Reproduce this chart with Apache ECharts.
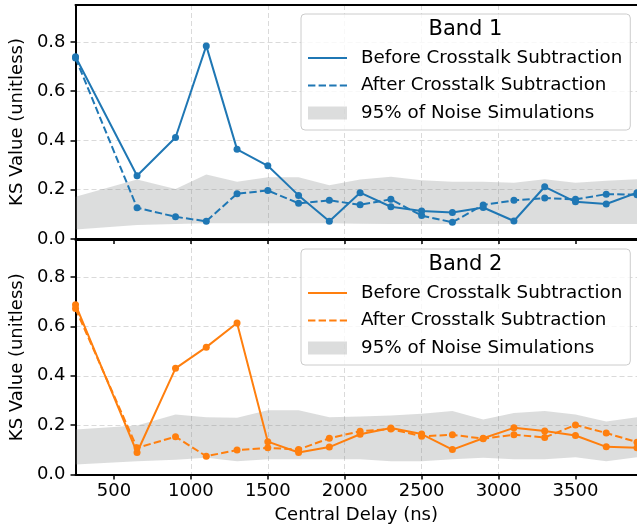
<!DOCTYPE html>
<html>
<head>
<meta charset="utf-8">
<script src="https://cdn.jsdelivr.net/npm/echarts@6/dist/echarts.min.js"></script>
<style>
  html, body { margin: 0; padding: 0; background: #fff; }
  #chart { width: 637px; height: 531px; }
</style>
</head>
<body>
<div id="chart"></div>
<script>
// central delay of each point (ns)
const delays = [250, 650, 900, 1100, 1300, 1500, 1700, 1900, 2100, 2300, 2500, 2700, 2900, 3100, 3300, 3500, 3700, 3900]
const xTickValues = [500, 1000, 1500, 2000, 2500, 3000, 3500]

// Band 1
const band1Before = [0.740, 0.257, 0.412, 0.784, 0.364, 0.297, 0.177, 0.072, 0.188, 0.131, 0.114, 0.108, 0.128, 0.073, 0.212, 0.151, 0.142, 0.188]
const band1After = [0.735, 0.127, 0.090, 0.072, 0.184, 0.197, 0.145, 0.157, 0.139, 0.161, 0.095, 0.068, 0.138, 0.157, 0.166, 0.161, 0.182, 0.180]
const band1NoiseLow = [0.039, 0.057, 0.061, 0.064, 0.064, 0.064, 0.064, 0.064, 0.062, 0.061, 0.061, 0.061, 0.061, 0.061, 0.061, 0.061, 0.061, 0.061]
const band1NoiseHigh = [0.172, 0.242, 0.203, 0.262, 0.232, 0.251, 0.251, 0.218, 0.242, 0.253, 0.239, 0.232, 0.232, 0.228, 0.243, 0.228, 0.236, 0.243]

// Band 2
const band2Before = [0.688, 0.089, 0.430, 0.516, 0.614, 0.133, 0.089, 0.111, 0.163, 0.188, 0.164, 0.101, 0.147, 0.189, 0.176, 0.158, 0.112, 0.108]
const band2After = [0.672, 0.108, 0.153, 0.074, 0.099, 0.108, 0.101, 0.147, 0.175, 0.184, 0.155, 0.161, 0.145, 0.161, 0.150, 0.201, 0.168, 0.131]
const band2NoiseLow = [0.041, 0.054, 0.060, 0.068, 0.054, 0.062, 0.062, 0.062, 0.062, 0.054, 0.054, 0.062, 0.068, 0.062, 0.062, 0.070, 0.054, 0.070]
const band2NoiseHigh = [0.182, 0.199, 0.243, 0.232, 0.230, 0.260, 0.260, 0.232, 0.235, 0.239, 0.246, 0.257, 0.223, 0.249, 0.257, 0.243, 0.215, 0.232]

const FONT = 'DejaVu Sans'
const bandColor = 'rgba(128,132,132,0.28)'
const gridLineColor = '#dadada'
const legendLabels = {}

function pairs (ys) {
    return ys.map((y, i) => [delays[i], y])
}

// shaded noise envelope, drawn once as one polygon through the axis scales
function bandSeries (idx, low, high) {
    return {
        name: 'noise' + idx, type: 'custom', xAxisIndex: idx, yAxisIndex: idx,
        silent: true, z: 1, clip: true,
        itemStyle: { color: bandColor },
        data: delays.map((d, i) => [d, low[i], high[i]]),
        renderItem: function (params, api) {
            if (params.dataIndex !== 0) return null
            const pts = []
            for (let i = 0; i < delays.length; i++) pts.push(api.coord([delays[i], high[i]]))
            for (let i = delays.length - 1; i >= 0; i--) pts.push(api.coord([delays[i], low[i]]))
            return {
                type: 'polygon',
                shape: { points: pts },
                style: { fill: bandColor, stroke: null }
            }
        }
    }
}

function panelSeries (idx, color, before, after, low, high) {
    legendLabels['before' + idx] = 'Before Crosstalk Subtraction'
    legendLabels['after' + idx] = 'After Crosstalk Subtraction'
    legendLabels['noise' + idx] = '95% of Noise Simulations'
    return [
        bandSeries(idx, low, high),
        {
            name: 'before' + idx, type: 'line', xAxisIndex: idx, yAxisIndex: idx,
            data: pairs(before), symbol: 'circle', symbolSize: 7, z: 3,
            lineStyle: { color: color, width: 2 },
            itemStyle: { color: color }
        },
        {
            name: 'after' + idx, type: 'line', xAxisIndex: idx, yAxisIndex: idx,
            data: pairs(after), symbol: 'circle', symbolSize: 7, z: 3,
            lineStyle: { color: color, width: 2, type: [7.4, 3.2] },
            itemStyle: { color: color }
        }
    ]
}

function xAxis (idx, showLabels) {
    return {
        type: 'value', gridIndex: idx, min: 250, max: 3900,
        axisLine: { show: true, lineStyle: { color: '#000', width: 2 } },
        axisTick: { show: true, inside: false, length: 5, customValues: xTickValues, lineStyle: { color: '#000', width: 1.5 } },
        axisLabel: {
            show: showLabels, customValues: xTickValues, margin: 8, fontSize: 18, fontFamily: FONT, color: '#000',
            formatter: v => String(v)
        },
        splitLine: { show: true, showMinLine: false, showMaxLine: false, lineStyle: { color: gridLineColor, width: 1, type: [5, 3] } },
        name: showLabels ? 'Central Delay (ns)' : '',
        nameLocation: 'middle', nameGap: 32,
        nameTextStyle: { fontSize: 18, fontFamily: FONT, color: '#000' }
    }
}

// top spine of a panel
function topSpine (idx) {
    return {
        type: 'value', gridIndex: idx, position: 'top', min: 250, max: 3900,
        axisLine: { show: true, lineStyle: { color: '#000', width: 2 } },
        axisTick: { show: false }, axisLabel: { show: false }, splitLine: { show: false }
    }
}

function yAxis (idx) {
    return {
        type: 'value', gridIndex: idx, min: 0, max: 0.95, interval: 0.2,
        axisLine: { show: true, lineStyle: { color: '#000', width: 2 } },
        axisTick: { show: true, inside: false, length: 5, lineStyle: { color: '#000', width: 1.5 } },
        axisLabel: {
            showMaxLabel: false, margin: 10, fontSize: 18, fontFamily: FONT, color: '#000',
            formatter: v => v.toFixed(1)
        },
        splitLine: { show: true, showMinLine: false, showMaxLine: false, lineStyle: { color: gridLineColor, width: 1, type: [5, 3] } },
        name: 'KS Value (unitless)', nameLocation: 'middle', nameGap: 46,
        nameTextStyle: { fontSize: 18, fontFamily: FONT, color: '#000' }
    }
}

function legend (idx, top) {
    return {
        left: 301, top: top, orient: 'vertical',
        padding: [35, 8, 8, 6],
        itemGap: 9.5, itemWidth: 39, itemHeight: 13,
        backgroundColor: 'rgba(255,255,255,0.8)',
        borderColor: '#cccccc', borderWidth: 1, borderRadius: 4,
        selectedMode: false,
        textStyle: { fontSize: 18.3, fontFamily: FONT, color: '#000', padding: [0, 0, 0, 9] },
        formatter: name => legendLabels[name],
        data: [
            { name: 'before' + idx, itemStyle: { opacity: 0 } },
            { name: 'after' + idx, itemStyle: { opacity: 0 } },
            { name: 'noise' + idx, icon: 'rect', itemStyle: { color: bandColor, opacity: 1 } }
        ]
    }
}

const series = [].concat(
    panelSeries(0, '#1f77b4', band1Before, band1After, band1NoiseLow, band1NoiseHigh),
    panelSeries(1, '#ff7f0e', band2Before, band2After, band2NoiseLow, band2NoiseHigh)
)

const chart = echarts.init(document.getElementById('chart'))
chart.setOption({
    animation: false,
    backgroundColor: '#fff',
    textStyle: { fontFamily: FONT },
    grid: [
        { left: 72, right: -3, top: 5, height: 234 },
        { left: 72, right: -3, top: 240, height: 234.5 }
    ],
    xAxis: [xAxis(0, false), xAxis(1, true), topSpine(0), topSpine(1)],
    yAxis: [yAxis(0), yAxis(1)],
    legend: [legend(0, 14), legend(1, 249)],
    graphic: [
        { type: 'text', x: 465.5, y: 30, z: 100, style: { text: 'Band 1', fontSize: 21, fontFamily: FONT, fill: '#000', align: 'center', verticalAlign: 'middle' } },
        { type: 'text', x: 465.5, y: 265, z: 100, style: { text: 'Band 2', fontSize: 21, fontFamily: FONT, fill: '#000', align: 'center', verticalAlign: 'middle' } }
    ],
    series: series
})
</script>
</body>
</html>
